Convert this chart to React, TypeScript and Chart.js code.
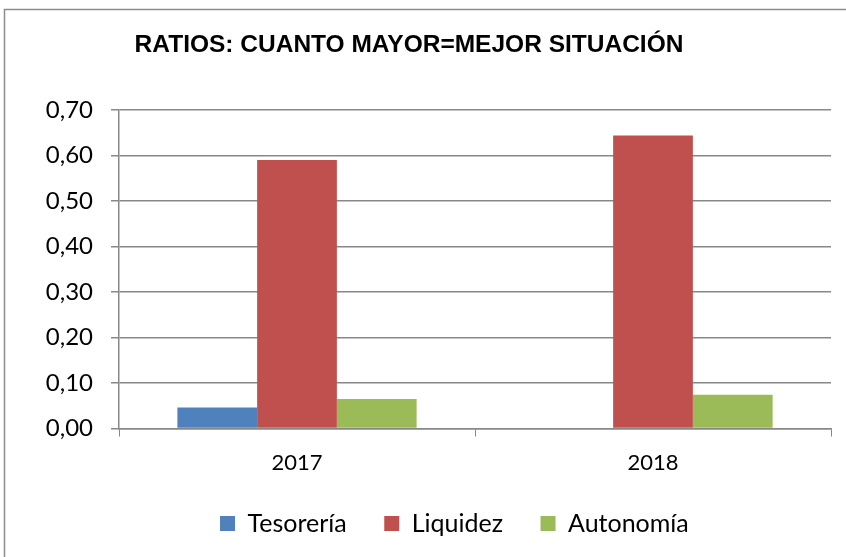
import React, { useEffect, useRef } from "react";
import { Chart, registerables } from "chart.js";

Chart.register(...registerables);

const categories = ["2017", "2018"];
const tesoreria = [0.046, 0];
const liquidez = [0.59, 0.644];
const autonomia = [0.065, 0.074];
const seriesNames = ["Tesorería", "Liquidez", "Autonomía"];
const titleText = "RATIOS: CUANTO MAYOR=MEJOR SITUACIÓN";

const FONT = "Lato, 'Open Sans', sans-serif";

const framePlugin = {
  id: "frame",
  beforeDraw(chart: any) {
    const ctx = chart.ctx;
    ctx.save();
    ctx.fillStyle = "#ffffff";
    ctx.fillRect(0, 0, chart.width, chart.height);
    ctx.strokeStyle = "#8c8c8c";
    ctx.lineWidth = 1.5;
    ctx.strokeRect(4.5, 9.5, chart.width + 20, chart.height + 20);
    ctx.fillStyle = "#000000";
    ctx.font = "bold 24.5px 'Liberation Sans', Arial, sans-serif";
    ctx.textAlign = "center";
    ctx.textBaseline = "alphabetic";
    ctx.fillText(titleText, 409, 52);
    ctx.restore();
  },
};

export default function App() {
  const ref = useRef<HTMLCanvasElement>(null);
  useEffect(() => {
    if (!ref.current) return;
    const chart = new Chart(ref.current, {
      type: "bar",
      data: {
        labels: categories,
        datasets: [
          { label: seriesNames[0], data: tesoreria, backgroundColor: "#4F81BD" },
          { label: seriesNames[1], data: liquidez, backgroundColor: "#C0504D" },
          { label: seriesNames[2], data: autonomia, backgroundColor: "#9BBB59" },
        ],
      },
      options: {
        animation: false,
        responsive: false,
        devicePixelRatio: 1,
        categoryPercentage: 0.672,
        barPercentage: 1,
        layout: { padding: { top: 110, left: 0, right: 15, bottom: 11 } },
        plugins: {
          title: { display: false },
          tooltip: { enabled: false },
          legend: {
            position: "bottom",
            onClick: () => {},
            labels: {
              boxWidth: 15,
              boxHeight: 15,
              padding: 37.5,
              color: "#000",
              font: { family: FONT, size: 25 },
              generateLabels: (c: any) => {
                const items = (Chart as any).defaults.plugins.legend.labels.generateLabels(c);
                items.forEach((it: any) => {
                  it.lineWidth = 0;
                });
                const spacer = {
                  text: "  ",
                  fillStyle: "rgba(0,0,0,0)",
                  strokeStyle: "rgba(0,0,0,0)",
                  lineWidth: 0,
                  hidden: false,
                  datasetIndex: -1,
                };
                return [spacer, ...items];
              },
            },
          },
        },
        scales: {
          x: {
            offset: true,
            afterFit(scale: any) {
              scale.height = 45;
            },
            grid: {
              display: true,
              offset: true,
              drawOnChartArea: false,
              drawTicks: true,
              tickLength: 8,
              color: "#888888",
            },
            border: { display: true, color: "#888888", width: 1.5 },
            ticks: { color: "#000", padding: 13, font: { family: FONT, size: 22 } },
          },
          y: {
            min: 0,
            max: 0.7,
            afterFit(scale: any) {
              scale.width = 119;
            },
            grid: { color: "#888888", tickLength: 8, lineWidth: 1.5 },
            border: { display: true, color: "#888888", width: 1.5 },
            ticks: {
              stepSize: 0.1,
              padding: 18,
              color: "#000",
              font: { family: FONT, size: 24 },
              callback: (v: any) => Number(v).toFixed(2).replace(".", ","),
            },
          },
        },
      },
      plugins: [framePlugin],
    });
    return () => chart.destroy();
  }, []);
  return (
    <canvas
      ref={ref}
      width={846}
      height={557}
      style={{ position: "absolute", left: 0, top: 0, width: 846, height: 557 }}
    />
  );
}
